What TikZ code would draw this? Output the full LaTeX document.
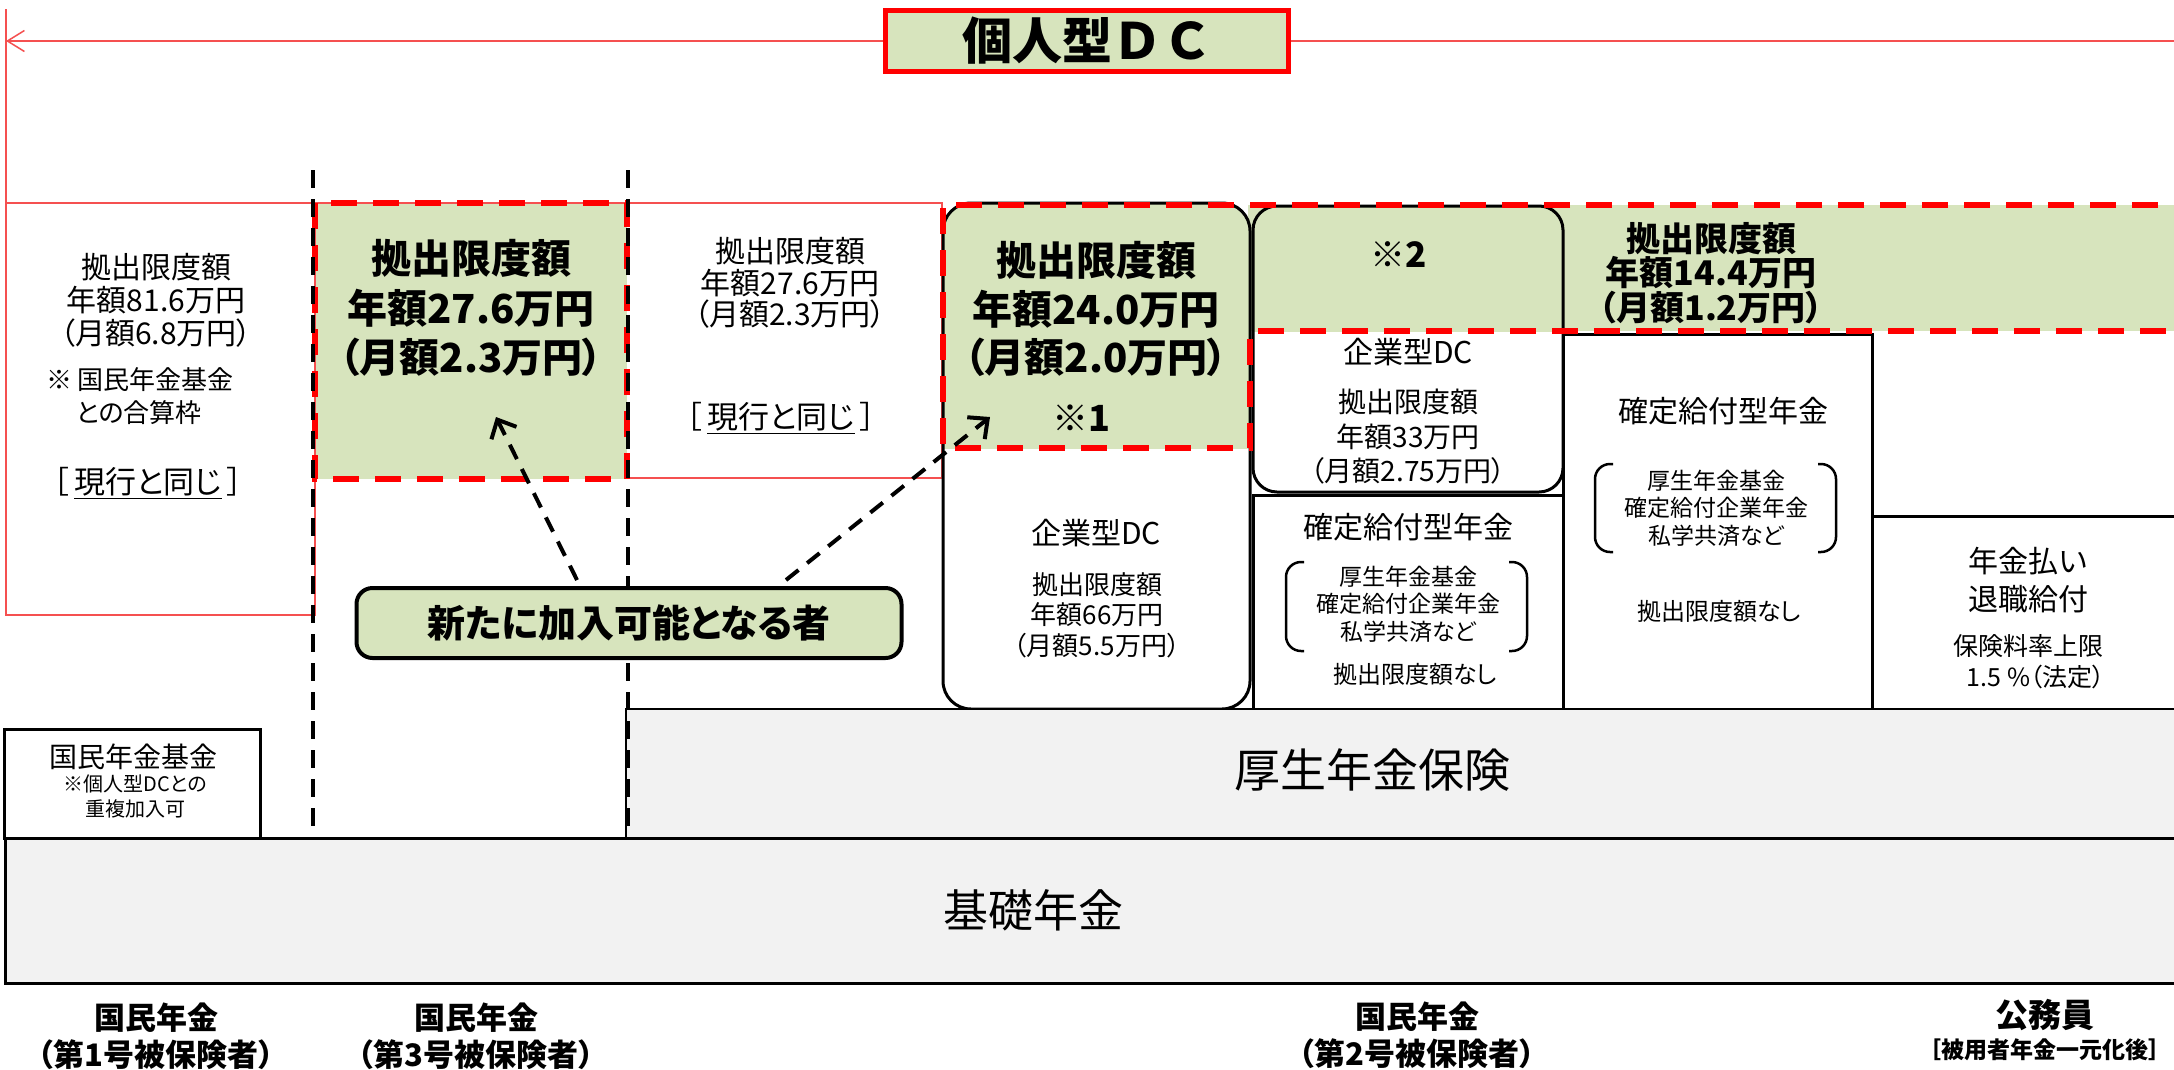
\documentclass[tikz,border=0pt]{standalone}
\usepackage{fontspec}
\setmainfont{Noto Sans CJK JP}[RawFeature=+palt]
\newfontfamily\nopalt{Noto Sans CJK JP}
\usetikzlibrary{arrows.meta}
\definecolor{dcgreen}{RGB}{215,228,189}
\definecolor{lgray}{RGB}{242,242,242}
\definecolor{thinred}{RGB}{245,80,80}
\newcommand\fz[2]{\fontsize{#1}{#2}\selectfont}
\tikzset{
  txt/.style={inner sep=0pt, align=center},
  thinline/.style={draw=thinred, line width=1.5pt},
  rdash/.style={draw=red, line width=6pt, dash pattern=on 26pt off 16pt},
  kdash/.style={draw=black, line width=3.5pt, dash pattern=on 18pt off 11pt},
  adash/.style={draw=black, line width=4pt, dash pattern=on 16pt off 11pt, -{Straight Barb[length=15pt,width=28pt]}},
  bbox/.style={draw=black, line width=3pt},
  brk/.style={draw=black, line width=2.5pt, rounded corners=15pt},
}
\begin{document}
\begin{tikzpicture}[x=1pt,y=-1pt]
\useasboundingbox (0,0) rectangle (2174,1069);
\fill[white] (0,0) rectangle (2174,1069);
\begin{scope}
\clip (0,0) rectangle (2174,1069);

% green fills
\fill[dcgreen] (315,203) rectangle (627,479);
\fill[dcgreen] (1248,205) rectangle (2200,331);
\begin{scope}
  \clip (900,190) rectangle (1252,448);
  \fill[dcgreen, rounded corners=28pt] (943,203) rectangle (1250,709);
\end{scope}
\begin{scope}
  \clip (1240,190) rectangle (1600,331);
  \fill[dcgreen, rounded corners=24pt] (1253,206) rectangle (1563,492);
\end{scope}

% thin red frame lines
\coordinate (leftend) at (6,41);
\coordinate (rightend) at (2174,41);
\draw[thinline] (6,9) -- (6,615) -- (315,615) -- (315,203);
\draw[thinline] (6,203) -- (942,203) -- (942,478) -- (628,478);

% black boxes
\draw[bbox, rounded corners=28pt] (943,203) rectangle (1250,709);
\draw[bbox, rounded corners=24pt] (1253,206) rectangle (1563,492);
\draw[bbox] (1253,495) rectangle (1563,709);
\draw[bbox] (1563,334) rectangle (1872,709);
\draw[bbox] (1872,516) rectangle (2200,709);
\draw[bbox, line width=2.5pt, fill=lgray] (626,709) rectangle (2200,838);
\draw[bbox, line width=3pt, fill=lgray] (5,838) rectangle (2200,983);
\draw[bbox] (4,729) rectangle (260,838);

% red dashed outlines
\draw[rdash] (315,203) rectangle (627,479);
\draw[rdash] (2200,205) -- (943,205) -- (943,448) -- (1250,448) -- (1250,331) -- (2200,331);

% black dashed separators
\draw[kdash] (313,170) -- (313,838);
\draw[kdash] (628,170) -- (628,838);

% brackets
\draw[brk] (1304,562) -- (1286,562) -- (1286,651) -- (1304,651);
\draw[brk] (1509,562) -- (1527,562) -- (1527,651) -- (1509,651);
\draw[brk] (1613,464) -- (1595,464) -- (1595,552) -- (1613,552);
\draw[brk] (1818,464) -- (1836,464) -- (1836,552) -- (1818,552);

% title
\node[draw=red, line width=5pt, fill=dcgreen, minimum width=403pt, minimum height=61pt,
      inner sep=0pt, font=\nopalt\bfseries\fz{50}{52}] (title) at (1087,41) {個人型ＤＣ};
\draw[thinline, -{Straight Barb[length=17pt,width=21pt]}] (title.west) -- (leftend);
\draw[thinline] (title.east) -- (rightend);

% column 1
\node[txt, font=\fz{30}{33}] (c1a) at (156,300) {拠出限度額\\年額81.6万円\\（月額6.8万円）};
\node[txt, font=\fz{26}{30}] (c1b) at (140,380) {※ 国民年金基金};
\node[txt, font=\fz{26}{30}, anchor=west] (c1c) at (76,413) {との合算枠};
\node[txt, font=\fz{31}{33}] (c1d) at (148,483) {［\,\underline{現行と同じ}\,］};

% column 2
\node[txt, font=\bfseries\fz{40}{49.5}] (c2) at (471,308) {拠出限度額\\年額27.6万円\\（月額2.3万円）};

% column 3
\node[txt, font=\fz{30}{31.5}] (c3) at (790,283) {拠出限度額\\年額27.6万円\\（月額2.3万円）};
\node[txt, font=\fz{31}{33}] (c3b) at (781,418) {［\,\underline{現行と同じ}\,］};

% column 4
\node[txt, font=\bfseries\fz{40}{48.5}] (c4) at (1096,309) {拠出限度額\\年額24.0万円\\（月額2.0万円）};
\node[txt, font=\bfseries\fz{36}{40}] (c4n) at (1081,418) {※1};
\node[txt, font=\fz{30}{33}] (c4t) at (1096,533) {企業型DC};
\node[txt, font=\fz{26}{30.5}] (c4b) at (1097,615) {拠出限度額\\年額66万円\\（月額5.5万円）};

% column 5
\node[txt, font=\bfseries\fz{35}{40}] (c5n) at (1399,255) {※2};
\node[txt, font=\fz{30}{33}] (c5t) at (1408,352) {企業型DC};
\node[txt, font=\fz{28}{34.5}] (c5b) at (1408,437) {拠出限度額\\年額33万円\\（月額2.75万円）};
\node[txt, font=\fz{30}{33}] (c5d) at (1408,527) {確定給付型年金};
\node[txt, font=\fz{23}{27.5}] (c5e) at (1408,604) {厚生年金基金\\確定給付企業年金\\私学共済など};
\node[txt, font=\fz{24}{28}] (c5f) at (1415,674) {拠出限度額なし};

% band
\node[txt, font=\bfseries\fz{34}{34.5}] (band) at (1711,273) {拠出限度額\\年額14.4万円\\（月額1.2万円）};

% column 6
\node[txt, font=\fz{30}{33}] (c6t) at (1723,411) {確定給付型年金};
\node[txt, font=\fz{23}{27.5}] (c6b) at (1716,508) {厚生年金基金\\確定給付企業年金\\私学共済など};
\node[txt, font=\fz{24}{28}] (c6c) at (1719,611) {拠出限度額なし};

% column 7
\node[txt, font=\fz{30}{38}] (c7a) at (2028,580) {年金払い\\退職給付};
\node[txt, font=\fz{25}{30}] (c7b) at (2028,646) {保険料率上限};
\node[txt, font=\fz{25}{30}] (c7c) at (2036,677) {1.5 \%（法定）};

% lower boxes
\node[txt, font=\fz{28}{30}] (kk1) at (133,757) {国民年金基金};
\node[txt, font=\fz{20}{25}] (kk2) at (135,796) {※個人型DCとの\\重複加入可};
\node[txt, font=\fz{46}{50}] (kosei) at (1372,770) {厚生年金保険};
\node[txt, font=\fz{45}{50}] (kiso) at (1033,910) {基礎年金};

% bottom labels
\node[txt, font=\bfseries\fz{31}{37}] (lab1) at (156,1036) {国民年金\\（第1号被保険者）};
\node[txt, font=\bfseries\fz{31}{37}] (lab3) at (476,1036) {国民年金\\（第3号被保険者）};
\node[txt, font=\bfseries\fz{31}{37}] (lab2) at (1417,1035) {国民年金\\（第2号被保険者）};
\node[txt, font=\bfseries\fz{33}{36}] (lab4) at (2045,1015) {公務員};
\node[txt, font=\bfseries\fz{23}{26}] (lab4b) at (2045,1050) {［被用者年金一元化後］};

% new participants
\node[draw=black, line width=4pt, fill=dcgreen, rounded corners=16pt, minimum width=545pt,
      minimum height=70pt, inner sep=0pt, font=\bfseries\fz{38}{40}] (newbox) at (629,623) {新たに加入可能となる者};
\coordinate (tip1) at (496,417);
\coordinate (tip2) at (990,417);
\draw[adash] ([xshift=-52pt,yshift=6pt]newbox.north) -- (tip1);
\draw[adash] ([xshift=157pt,yshift=6pt]newbox.north) -- (tip2);
\end{scope}
\end{tikzpicture}
\end{document}
